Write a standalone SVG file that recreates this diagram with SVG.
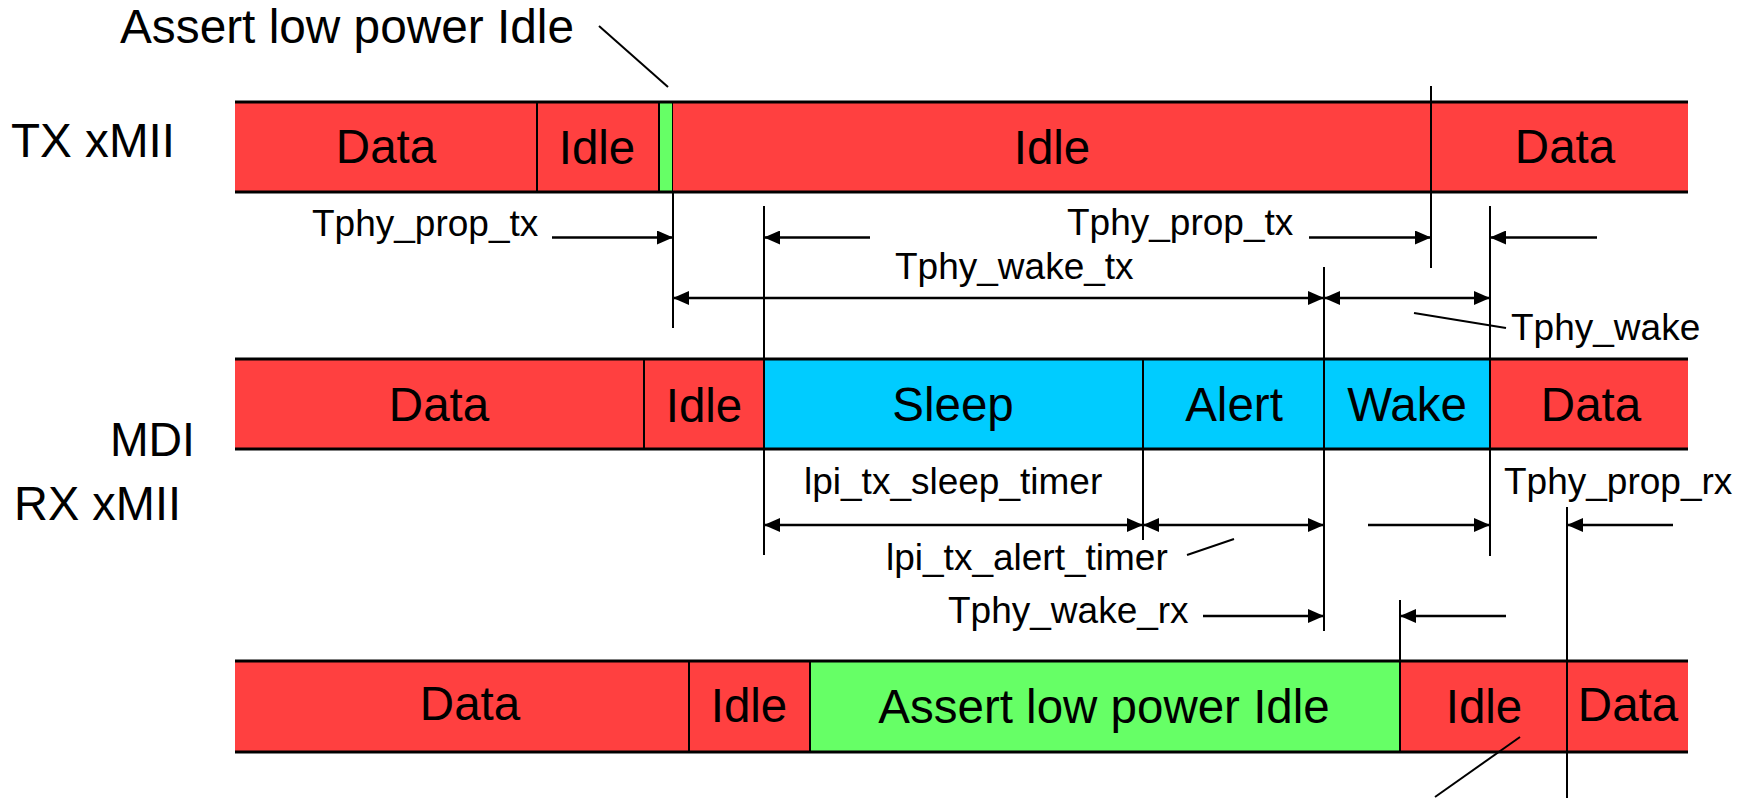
<svg xmlns="http://www.w3.org/2000/svg" width="1749" height="798" viewBox="0 0 1749 798">
<defs>
<style>
text{font-family:"Liberation Sans",Arial,sans-serif;fill:#000}
.big{font-size:47.5px}
.sm{font-size:37px}
.mid{text-anchor:middle}
.red{fill:#FF4040}
.blue{fill:#00CCFF}
.green{fill:#66FF66}
.edge{stroke:#000;stroke-width:3;fill:none}
.div{stroke:#000;stroke-width:2;fill:none}
.ln{stroke:#000;stroke-width:2;fill:none}
.ar{stroke:#000;stroke-width:2.5;fill:none}
</style>
<marker id="ah" viewBox="0 0 16 14" refX="16" refY="7" markerWidth="16" markerHeight="14" markerUnits="userSpaceOnUse" orient="auto-start-reverse">
<path d="M0,0 L16,7 L0,14 z" fill="#000"/>
</marker>
</defs>
<rect width="1749" height="798" fill="#fff"/>

<g id="labels">
<text class="big" x="120" y="43" textLength="454" lengthAdjust="spacingAndGlyphs">Assert low power Idle</text>
<text class="big" x="11" y="157" textLength="164" lengthAdjust="spacingAndGlyphs">TX xMII</text>
<text class="big" x="110" y="456" textLength="85" lengthAdjust="spacingAndGlyphs">MDI</text>
<text class="big" x="14" y="520" textLength="167" lengthAdjust="spacingAndGlyphs">RX xMII</text>
</g>

<g id="tx-data1"><rect class="red" x="235" y="102" width="302" height="90"/><text class="big mid" x="386" y="163">Data</text></g>
<g id="tx-idle1"><rect class="red" x="537" y="102" width="122" height="90"/><text class="big mid" x="597" y="164">Idle</text></g>
<g id="tx-lpi"><rect class="green" x="659" y="102" width="14" height="90" stroke="#000" stroke-width="2"/></g>
<g id="tx-idle2"><rect class="red" x="673" y="102" width="758" height="90"/><text class="big mid" x="1052" y="164">Idle</text></g>
<g id="tx-data2"><rect class="red" x="1431" y="102" width="257" height="90"/><text class="big mid" x="1565" y="163">Data</text></g>
<g id="tx-edges"><line class="edge" x1="235" y1="102" x2="1688" y2="102"/><line class="edge" x1="235" y1="192" x2="1688" y2="192"/><line class="div" x1="537" y1="102" x2="537" y2="192"/></g>

<g id="mdi-data1"><rect class="red" x="235" y="359" width="409" height="90"/><text class="big mid" x="439" y="421">Data</text></g>
<g id="mdi-idle"><rect class="red" x="644" y="359" width="120" height="90"/><text class="big mid" x="704" y="422">Idle</text></g>
<g id="mdi-sleep"><rect class="blue" x="764" y="359" width="379" height="90"/><text class="big mid" x="953" y="421">Sleep</text></g>
<g id="mdi-alert"><rect class="blue" x="1143" y="359" width="181" height="90"/><text class="big mid" x="1234" y="421">Alert</text></g>
<g id="mdi-wake"><rect class="blue" x="1324" y="359" width="166" height="90"/><text class="big mid" x="1407" y="421">Wake</text></g>
<g id="mdi-data2"><rect class="red" x="1490" y="359" width="198" height="90"/><text class="big mid" x="1591" y="421">Data</text></g>
<g id="mdi-edges"><line class="edge" x1="235" y1="359" x2="1688" y2="359"/><line class="edge" x1="235" y1="449" x2="1688" y2="449"/><line class="div" x1="644" y1="359" x2="644" y2="449"/></g>

<g id="rx-data1"><rect class="red" x="235" y="661" width="454" height="91"/><text class="big mid" x="470" y="720">Data</text></g>
<g id="rx-idle1"><rect class="red" x="689" y="661" width="121" height="91"/><text class="big mid" x="749" y="722">Idle</text></g>
<g id="rx-lpi"><rect class="green" x="810" y="661" width="590" height="91"/><text class="big mid" x="1104" y="723">Assert low power Idle</text></g>
<g id="rx-idle2"><rect class="red" x="1400" y="661" width="167" height="91"/><text class="big mid" x="1484" y="723">Idle</text></g>
<g id="rx-data2"><rect class="red" x="1567" y="661" width="121" height="91"/><text class="big mid" x="1628" y="721">Data</text></g>
<g id="rx-edges"><line class="edge" x1="235" y1="661" x2="1688" y2="661"/><line class="edge" x1="235" y1="752" x2="1688" y2="752"/><line class="div" x1="689" y1="661" x2="689" y2="752"/><line class="div" x1="810" y1="661" x2="810" y2="752"/><line class="div" x1="1400" y1="661" x2="1400" y2="752"/></g>

<g id="timing-labels">
<text class="sm" x="312" y="236">Tphy_prop_tx</text>
<text class="sm" x="1067" y="235">Tphy_prop_tx</text>
<text class="sm" x="895" y="279">Tphy_wake_tx</text>
<text class="sm" x="1511" y="340">Tphy_wake</text>
<text class="sm" x="804" y="494">lpi_tx_sleep_timer</text>
<text class="sm" x="1504" y="494">Tphy_prop_rx</text>
<text class="sm" x="886" y="570">lpi_tx_alert_timer</text>
<text class="sm" x="948" y="623">Tphy_wake_rx</text>
</g>

<g id="connectors">
<line class="ln" x1="673" y1="192" x2="673" y2="328"/>
<line class="ln" x1="764" y1="206" x2="764" y2="555"/>
<line class="ln" x1="1431" y1="86" x2="1431" y2="268"/>
<line class="ln" x1="1490" y1="206" x2="1490" y2="556"/>
<line class="ln" x1="1324" y1="267" x2="1324" y2="631"/>
<line class="ln" x1="1143" y1="359" x2="1143" y2="540"/>
<line class="ln" x1="1400" y1="600" x2="1400" y2="661"/>
<line class="ln" x1="1567" y1="507" x2="1567" y2="798"/>

<line class="ar" x1="552" y1="237.5" x2="673" y2="237.5" marker-end="url(#ah)"/>
<line class="ar" x1="870" y1="237.5" x2="764" y2="237.5" marker-end="url(#ah)"/>
<line class="ar" x1="1309" y1="237.5" x2="1431" y2="237.5" marker-end="url(#ah)"/>
<line class="ar" x1="1597" y1="237.5" x2="1490" y2="237.5" marker-end="url(#ah)"/>
<line class="ar" x1="673" y1="298" x2="1324" y2="298" marker-start="url(#ah)" marker-end="url(#ah)"/>
<line class="ar" x1="1324" y1="298" x2="1490" y2="298" marker-start="url(#ah)" marker-end="url(#ah)"/>
<line class="ar" x1="764" y1="525" x2="1143" y2="525" marker-start="url(#ah)" marker-end="url(#ah)"/>
<line class="ar" x1="1143" y1="525" x2="1324" y2="525" marker-start="url(#ah)" marker-end="url(#ah)"/>
<line class="ar" x1="1368" y1="525" x2="1490" y2="525" marker-end="url(#ah)"/>
<line class="ar" x1="1673" y1="525" x2="1567" y2="525" marker-end="url(#ah)"/>
<line class="ar" x1="1203" y1="616" x2="1324" y2="616" marker-end="url(#ah)"/>
<line class="ar" x1="1506" y1="616" x2="1400" y2="616" marker-end="url(#ah)"/>

<line class="ln" x1="599" y1="26" x2="668" y2="87"/>
<line class="ln" x1="1414" y1="313" x2="1506" y2="328"/>
<line class="ln" x1="1187" y1="555" x2="1234" y2="539"/>
<line class="ln" x1="1520" y1="737" x2="1435" y2="797"/>
</g>
</svg>
